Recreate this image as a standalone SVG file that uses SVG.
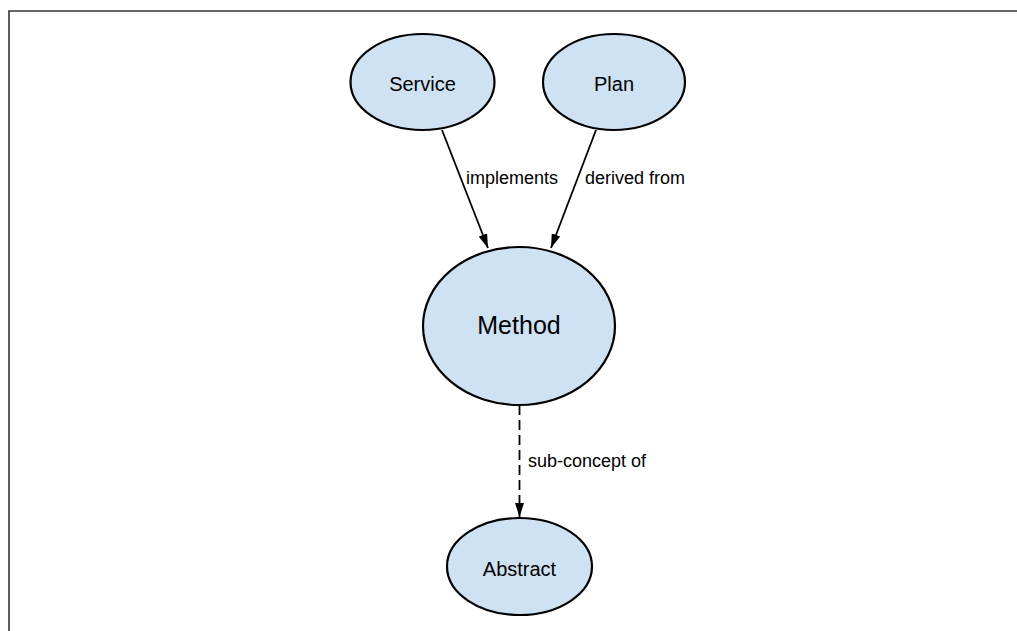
<svg xmlns="http://www.w3.org/2000/svg" width="1017" height="631" viewBox="0 0 1017 631">
<defs>
<marker id="arrow" viewBox="0 0 14 9" refX="14" refY="4.5" markerWidth="14" markerHeight="9" markerUnits="userSpaceOnUse" orient="auto">
<path d="M0,0 L14,4.5 L0,9 z" fill="#000"/>
</marker>
</defs>
<style>
.node ellipse { fill: #cfe2f3; stroke: #000; stroke-width: 2.2; }
.node text { font-family: "Liberation Sans", Arial, sans-serif; fill: #000; text-anchor: middle; }
.edge { stroke: #000; stroke-width: 1.8; fill: none; marker-end: url(#arrow); }
.dashed { stroke-dasharray: 10 5; }
.label { font-family: "Liberation Sans", Arial, sans-serif; font-size: 18px; fill: #000; }
</style>
<rect x="0" y="0" width="1017" height="631" fill="#fff"/>
<path d="M9,640 L9,11 L1030,11" fill="none" stroke="#333" stroke-width="1.6"/>
<g id="connectors">
<line class="edge" x1="442" y1="130" x2="488" y2="248"/>
<line class="edge" x1="596" y1="130" x2="551" y2="248"/>
<line class="edge dashed" x1="519.5" y1="405" x2="519.5" y2="517"/>
<text class="label" x="466" y="184">implements</text>
<text class="label" x="585" y="184">derived from</text>
<text class="label" x="528" y="467">sub-concept of</text>
</g>
<g id="service" class="node">
<ellipse cx="422.5" cy="82" rx="72" ry="48"/>
<text x="422.5" y="91" font-size="20">Service</text>
</g>
<g id="plan" class="node">
<ellipse cx="614" cy="82" rx="71" ry="48"/>
<text x="614" y="91" font-size="20">Plan</text>
</g>
<g id="method" class="node">
<ellipse cx="519" cy="326" rx="96" ry="79"/>
<text x="519" y="334" font-size="25">Method</text>
</g>
<g id="abstract" class="node">
<ellipse cx="519.5" cy="566.5" rx="72.5" ry="48.5"/>
<text x="519.5" y="576" font-size="20">Abstract</text>
</g>
</svg>
